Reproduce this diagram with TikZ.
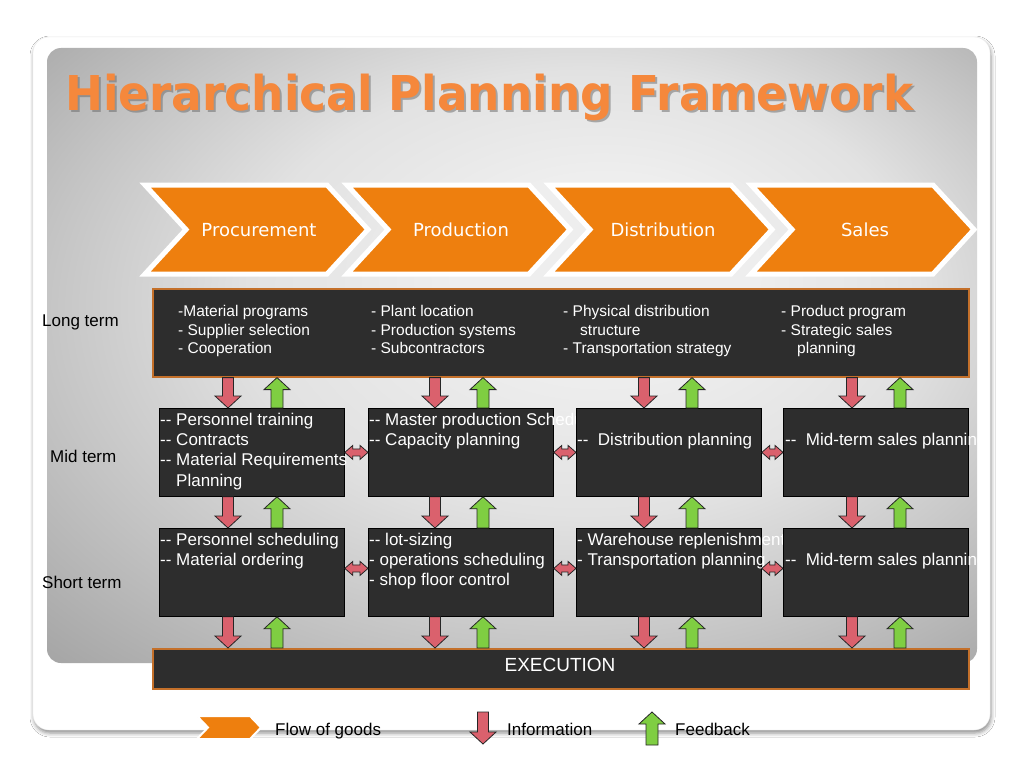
\documentclass[tikz,border=0pt]{standalone}
\usepackage{fontspec}
\usepackage{graphicx}
\setmainfont{Liberation Sans}
\newfontfamily\djv{DejaVu Sans}
\usetikzlibrary{calc,shadows.blur}

\definecolor{orangeF}{RGB}{238,127,14}
\definecolor{titleO}{RGB}{245,136,60}
\definecolor{boxD}{RGB}{45,45,45}
\definecolor{boxEdge}{RGB}{196,112,42}
\definecolor{infoR}{RGB}{218,97,109}
\definecolor{fbG}{RGB}{127,206,66}
\definecolor{pIn}{RGB}{238,238,238}
\definecolor{pA}{RGB}{226,226,226}
\definecolor{pMid}{RGB}{196,196,196}
\definecolor{pOut}{RGB}{158,158,158}
\definecolor{pEnd}{RGB}{140,140,140}
\pgfdeclareradialshading{panelshade}{\pgfpoint{6bp}{8bp}}{color(0bp)=(pIn); color(8bp)=(pIn); color(18bp)=(pA); color(28bp)=(pMid); color(40bp)=(pOut); color(50bp)=(pEnd)}

\tikzset{
 ltbox/.style={draw=boxEdge, line width=1.6pt, fill=boxD, inner sep=0pt, anchor=north west},
 tbox/.style={draw=black, line width=0.8pt, fill=boxD, inner sep=0pt, anchor=north west, minimum width=185pt, minimum height=88pt},
 ltxt/.style={text=white, inner sep=0pt, anchor=north west, align=left, font=\fontsize{15.5}{18.5}\selectfont},
 btxt/.style={text=white, inner sep=0pt, anchor=north west, align=left, font=\fontsize{17}{20.3}\selectfont},
 sidelbl/.style={text=black, inner sep=0pt, anchor=base west, font=\fontsize{17}{20}\selectfont},
 chevst/.style={fill=orangeF, draw=white, line width=5pt, line join=miter},
 chevtxt/.style={text=white, inner sep=0pt, anchor=base, font=\djv\fontsize{18}{20}\selectfont},
 infost/.style={fill=infoR, draw=black!85, line width=0.8pt, line join=miter},
 fbst/.style={fill=fbG, draw=black!85, line width=0.8pt, line join=miter},
 titlest/.style={anchor=base west, inner sep=0pt, font=\djv\bfseries\fontsize{48}{52}\selectfont},
}

\newcommand\infoarr[2]{\draw[infost] ($(#1)+(-5.5,0)$) -- ($(#2)+(-5.5,-12)$) -- ($(#2)+(-13,-12)$) -- (#2) -- ($(#2)+(13,-12)$) -- ($(#2)+(5.5,-12)$) -- ($(#1)+(5.5,0)$) -- cycle;}
\newcommand\fbarr[2]{\draw[fbst] ($(#1)+(-6,0)$) -- ($(#2)+(-6,12)$) -- ($(#2)+(-13,12)$) -- (#2) -- ($(#2)+(13,12)$) -- ($(#2)+(6,12)$) -- ($(#1)+(6,0)$) -- cycle;}
\newcommand\dblarr[2]{\draw[infost] (#1) -- ($(#1)+(8,-7)$) -- ($(#1)+(8,-3.5)$) -- ($(#2)+(-8,-3.5)$) -- ($(#2)+(-8,-7)$) -- (#2) -- ($(#2)+(-8,7)$) -- ($(#2)+(-8,3.5)$) -- ($(#1)+(8,3.5)$) -- ($(#1)+(8,7)$) -- cycle;}
\newcommand\chev[3]{\draw[chevst] (#1,185) -- ++(182,0) -- ++(41,44.5) -- ++(-41,44.5) -- ++(-182,0) -- ++(41,-44.5) -- cycle;
 \node[chevtxt] (#2) at (#1+114,236) {#3};}

\begin{document}
\begin{tikzpicture}[x=1pt,y=-1pt]
\useasboundingbox (0,0) rectangle (1024,768);
\fill[white] (0,0) rectangle (1024,768);
% frame and panel
\path[fill=white, draw=black!8, rounded corners=16pt, blur shadow={shadow xshift=1pt, shadow yshift=-3pt, shadow blur radius=4pt, shadow opacity=45}] (33,37) rectangle (990,730);
\path[shading=panelshade, rounded corners=14pt] (47,48) rectangle (977,663);

% title
\node[titlest, text=black!60, opacity=0.5] (titleshadow) at (67,112) {\scalebox{0.945}[1]{Hierarchical Planning Framework}};
\node[titlest, text=titleO] (title) at (65,110) {\scalebox{0.945}[1]{Hierarchical Planning Framework}};

% chevrons
\chev{145}{chP}{Procurement}
\chev{347}{chR}{Production}
\chev{549}{chD}{Distribution}
\chev{751}{chS}{Sales}

% long term
\node[ltbox, minimum width=816pt, minimum height=88pt] (LT) at (152,288) {};
\node[ltxt] (LT1) at ($(LT.north west)+(26,17.5)$) {-Material programs\\- Supplier selection\\- Cooperation};
\node[ltxt] (LT2) at ($(LT.north west)+(219,17.5)$) {- Plant location\\- Production systems\\- Subcontractors};
\node[ltxt] (LT3) at ($(LT.north west)+(411,17.5)$) {- Physical distribution\\\hspace*{17pt}structure\\- Transportation strategy};
\node[ltxt] (LT4) at ($(LT.north west)+(629,17.5)$) {- Product program\\- Strategic sales\\\hspace*{16pt}planning};

% mid term
\node[tbox] (M1) at (159,408) {};
\node[btxt] (M1t) at ($(M1.north west)+(1,4.8)$) {-{}- Personnel training\\-{}- Contracts\\-{}- Material Requirements\\\hspace*{16pt}Planning};
\node[tbox] (M2) at (368,408) {};
\node[btxt] (M2t) at ($(M2.north west)+(1,4.8)$) {-{}- Master production Schedule\\-{}- Capacity planning};
\node[tbox] (M3) at (576,408) {};
\node[btxt] (M3t) at ($(M3.north west)+(1,24.8)$) {-{}-\ \ Distribution planning};
\node[tbox] (M4) at (783,408) {};
\node[btxt] (M4t) at ($(M4.north west)+(2,24.8)$) {-{}-\ \ Mid-term sales planning};

% short term
\node[tbox] (S1) at (159,528) {};
\node[btxt] (S1t) at ($(S1.north west)+(1,4.8)$) {-{}- Personnel scheduling\\-{}- Material ordering};
\node[tbox] (S2) at (368,528) {};
\node[btxt] (S2t) at ($(S2.north west)+(1,4.8)$) {-{}- lot-sizing\\- operations scheduling\\- shop floor control};
\node[tbox] (S3) at (576,528) {};
\node[btxt] (S3t) at ($(S3.north west)+(1,4.8)$) {- Warehouse replenishment\\- Transportation planning};
\node[tbox] (S4) at (783,528) {};
\node[btxt] (S4t) at ($(S4.north west)+(2,24.8)$) {-{}-\ \ Mid-term sales planning};

% execution
\node[ltbox, minimum width=816pt, minimum height=40pt] (EX) at (152,648) {};
\node[text=white, inner sep=0pt, anchor=base, font=\fontsize{19}{22}\selectfont] (EXt) at (560,671.8) {EXECUTION};

% side labels
\node[sidelbl] (LTl) at (42,326) {Long term};
\node[sidelbl] (Ml) at (50,462) {Mid term};
\node[sidelbl] (Sl) at (42,588) {Short term};

% column positions
\coordinate (cd1) at (228,0); \coordinate (cu1) at (277,0);
\coordinate (cd2) at (435,0); \coordinate (cu2) at (483,0);
\coordinate (cd3) at (644,0); \coordinate (cu3) at (692,0);
\coordinate (cd4) at (852,0); \coordinate (cu4) at (900,0);

\foreach \i in {1,2,3,4}{
  \infoarr{LT.south -| cd\i}{M\i.north -| cd\i}
  \fbarr{M\i.north -| cu\i}{LT.south -| cu\i}
  \infoarr{M\i.south -| cd\i}{S\i.north -| cd\i}
  \fbarr{S\i.north -| cu\i}{M\i.south -| cu\i}
  \infoarr{S\i.south -| cd\i}{EX.north -| cd\i}
  \fbarr{EX.north -| cu\i}{S\i.south -| cu\i}
}

% horizontal double arrows
\dblarr{M1.east}{M2.west}
\dblarr{M2.east}{M3.west}
\dblarr{M3.east}{M4.west}
\coordinate (s1e) at ($(S1.east)+(0,-4)$); \coordinate (s2w) at ($(S2.west)+(0,-4)$);
\coordinate (s2e) at ($(S2.east)+(0,-4)$); \coordinate (s3w) at ($(S3.west)+(0,-4)$);
\coordinate (s3e) at ($(S3.east)+(0,-4)$); \coordinate (s4w) at ($(S4.west)+(0,-4)$);
\dblarr{s1e}{s2w}
\dblarr{s2e}{s3w}
\dblarr{s3e}{s4w}

% legend
\draw[chevst, line width=2pt] (197,716) -- (250,716) -- (261,727.5) -- (250,739) -- (197,739) -- (208,727.5) -- cycle;
\node[sidelbl] (lg1) at (275,735) {Flow of goods};
\coordinate (lgIa) at (483,712); \coordinate (lgIb) at (483,744);
\infoarr{lgIa}{lgIb}
\node[sidelbl] (lg2) at (507,735) {Information};
\coordinate (lgFa) at (652,745); \coordinate (lgFb) at (652,712);
\fbarr{lgFa}{lgFb}
\node[sidelbl] (lg3) at (675,735) {Feedback};
\end{tikzpicture}
\end{document}
